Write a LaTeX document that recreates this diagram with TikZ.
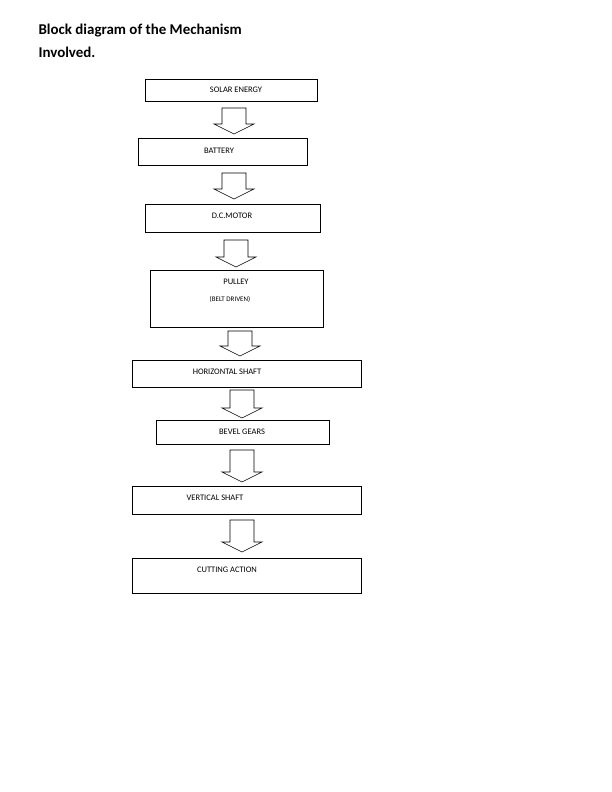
\documentclass[tikz,border=0pt]{standalone}
\usepackage{fontspec}
\setmainfont{Carlito}
\newcommand\blkarrow[3]{% x, ytop, ybottom
  \draw[line width=0.6pt] (#1-12,#2) -- (#1+12,#2) -- (#1+12,#3-10) -- (#1+20,#3-10) -- (#1,#3) -- (#1-20,#3-10) -- (#1-12,#3-10) -- cycle;}
\begin{document}
\begin{tikzpicture}[x=1bp,y=-1bp,
  box/.style={draw,line width=0.6pt,inner sep=0pt},
  lbl/.style={font=\fontsize{8.5}{10}\selectfont,anchor=center}]
\useasboundingbox (0,0) rectangle (612,792);
\node[anchor=north west,align=left,font=\fontsize{15}{24}\selectfont\bfseries] (title) at (35,20) {Block diagram of the Mechanism\\Involved.};
\draw[box] (145,79) rectangle (317,101); \node[lbl] (t1) at (236,90) {SOLAR ENERGY};
\draw[box] (138,138) rectangle (307,165); \node[lbl] (t2) at (219,151) {BATTERY};
\draw[box] (145,204) rectangle (320,232); \node[lbl] (t3) at (232,216) {D.C.MOTOR};
\draw[box] (150,270) rectangle (323,327); \node[lbl] (t4) at (236,282) {PULLEY};
\node[font=\fontsize{7}{8}\selectfont] (t4b) at (230,299) {(BELT DRIVEN)};
\draw[box] (132,360) rectangle (361,387); \node[lbl] (t5) at (227,372) {HORIZONTAL SHAFT};
\draw[box] (156,420) rectangle (329,444); \node[lbl] (t6) at (242,432) {BEVEL GEARS};
\draw[box] (132,486) rectangle (361,514); \node[lbl] (t7) at (215,498) {VERTICAL SHAFT};
\draw[box] (132,558) rectangle (361,593); \node[lbl] (t8) at (227,570) {CUTTING ACTION};
\blkarrow{234}{108}{134}
\blkarrow{234}{173}{199}
\blkarrow{236}{240}{267}
\blkarrow{240}{331}{356}
\blkarrow{242}{390}{418}
\blkarrow{242}{450}{482}
\blkarrow{242}{520}{552}
\end{tikzpicture}
\end{document}
